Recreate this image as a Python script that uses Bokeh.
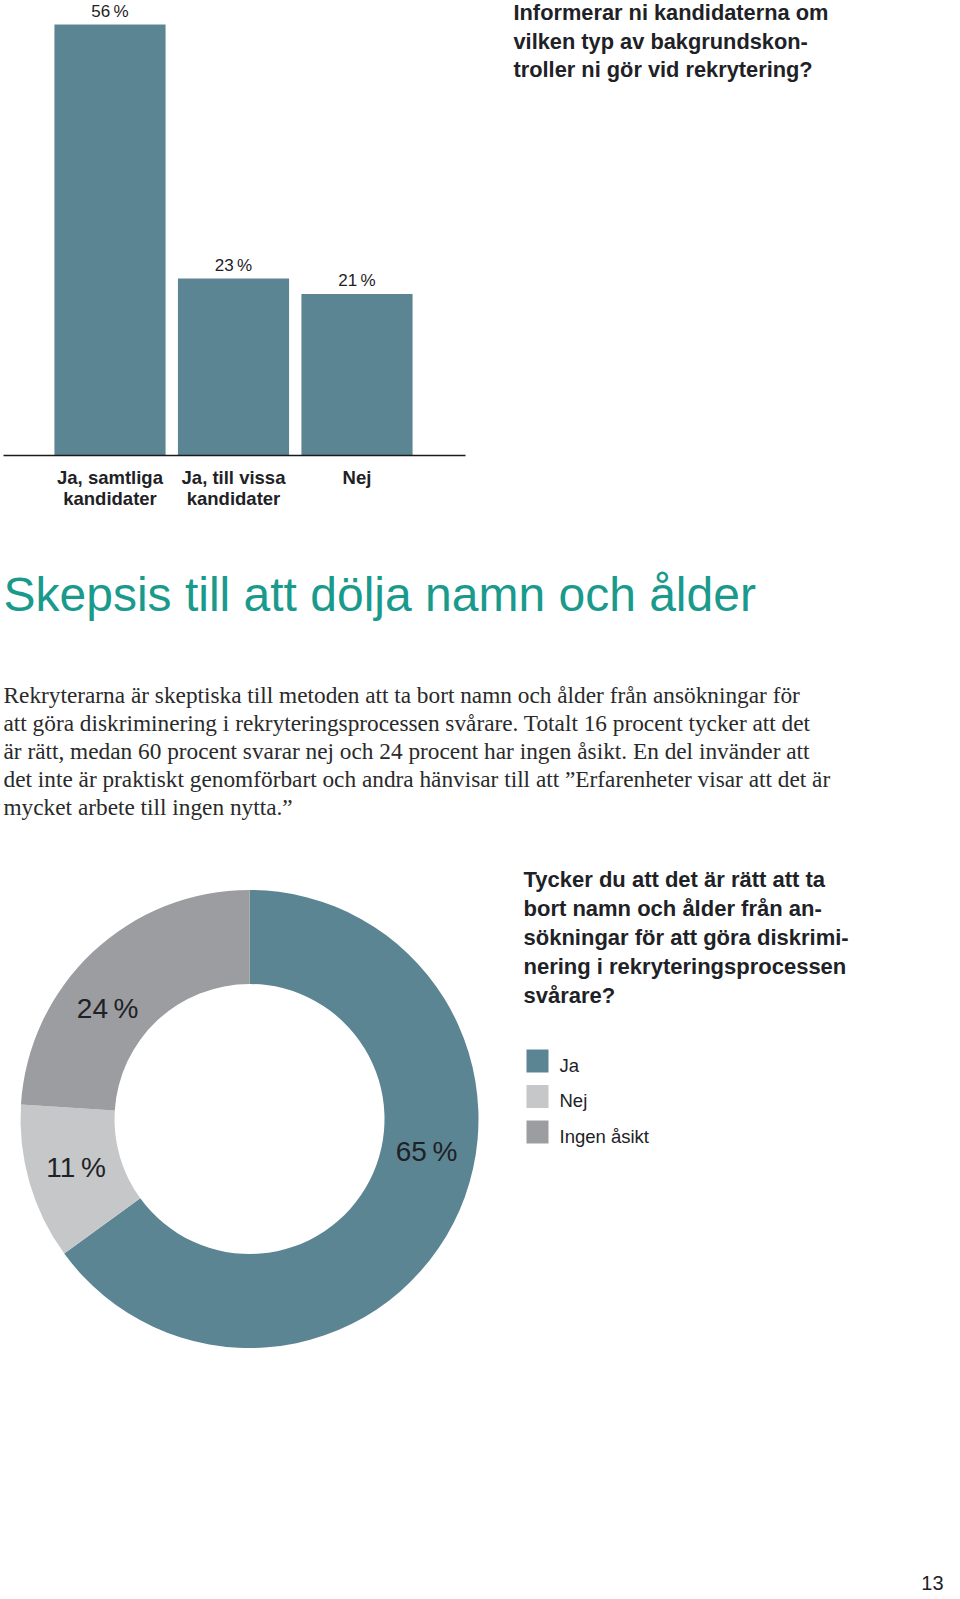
import math
from bokeh.plotting import figure
from bokeh.models import Range1d
from bokeh.layouts import column
from bokeh.core.properties import value
from bokeh.embed import file_html
from bokeh.resources import INLINE

# ---------------- data ----------------
bar_categories = ["Ja, samtliga\nkandidater", "Ja, till vissa\nkandidater", "Nej"]
bar_values = [56, 23, 21]
bar_question = ["Informerar ni kandidaterna om",
                "vilken typ av bakgrundskon-",
                "troller ni gör vid rekrytering?"]

heading = "Skepsis till att dölja namn och ålder"
paragraph = [
    "Rekryterarna är skeptiska till metoden att ta bort namn och ålder från ansökningar för",
    "att göra diskriminering i rekryteringsprocessen svårare. Totalt 16 procent tycker att det",
    "är rätt, medan 60 procent svarar nej och 24 procent har ingen åsikt. En del invänder att",
    "det inte är praktiskt genomförbart och andra hänvisar till att \u201dErfarenheter visar att det är",
    "mycket arbete till ingen nytta.\u201d",
]

donut_categories = ["Ja", "Nej", "Ingen åsikt"]
donut_values = [65, 11, 24]
donut_question = ["Tycker du att det är rätt att ta",
                  "bort namn och ålder från an-",
                  "sökningar för att göra diskrimi-",
                  "nering i rekryteringsprocessen",
                  "svårare?"]
page_number = "13"

# ---------------- style ----------------
BAR_COLOR = "#5c8594"
DONUT_COLORS = ["#5c8594", "#c6c7c9", "#9c9da1"]
TEAL = "#1a9a8c"
INK = "#1e2226"
SANS = value("Liberation Sans")
SERIF = value("Liberation Serif")

W = 944
H_TOP = 828
H_BOT = 769

# ---------------- top figure: bar chart + texts ----------------
STEP_PX = 123.5
FIRST_CENTER_PX = 109.5
BASE_PX = 455
PX_PER_PCT = 431.0 / 56

top = figure(width=W, height=H_TOP, output_backend="svg", toolbar_location=None,
             x_axis_type=None, y_axis_type=None, min_border=0,
             x_range=Range1d(-FIRST_CENTER_PX / STEP_PX, (W - FIRST_CENTER_PX) / STEP_PX),
             y_range=Range1d(-(H_TOP - BASE_PX) / PX_PER_PCT, BASE_PX / PX_PER_PCT))
top.extra_x_ranges = {"px": Range1d(0, W)}
top.extra_y_ranges = {"px": Range1d(H_TOP, 0)}
top.outline_line_color = None
top.grid.visible = False
top.background_fill_color = "white"
top.border_fill_color = "white"

idx = list(range(len(bar_values)))
top.vbar(x=idx, top=bar_values, bottom=0, width=0.9,
         fill_color=BAR_COLOR, line_color=None)
top.text(x=idx, y=bar_values, text=[f"{v}\u2009%" for v in bar_values],
         y_offset=-13, text_align="center", text_baseline="alphabetic",
         text_font=SANS, text_font_size="17px", text_color=INK)
# baseline rule
top.line(x=[3, 465], y=[0, 0], x_range_name="px",
         line_color="#1a1a1a", line_width=1.6)
# category labels
line1 = [c.split("\n")[0] for c in bar_categories]
line2 = [c.split("\n")[1] if "\n" in c else "" for c in bar_categories]
top.text(x=idx, y=[477] * 3, y_range_name="px", text=line1,
         text_align="center", text_baseline="alphabetic",
         text_font=SANS, text_font_style="bold", text_font_size="18.5px", text_color=INK)
top.text(x=idx, y=[498] * 3, y_range_name="px", text=line2,
         text_align="center", text_baseline="alphabetic",
         text_font=SANS, text_font_style="bold", text_font_size="18.5px", text_color=INK)
# question
top.text(x=[513] * 3, y=[12, 41, 69], x_range_name="px", y_range_name="px",
         text=bar_question, text_align="left", text_baseline="alphabetic",
         text_font=SANS, text_font_style="bold", text_font_size="21.8px", text_color=INK)
# heading
top.text(x=[3], y=[594], x_range_name="px", y_range_name="px", text=[heading],
         text_align="left", text_baseline="alphabetic",
         text_font=SANS, text_font_size="48px", text_color=TEAL)
# paragraph
top.text(x=[3] * len(paragraph), y=[694 + 28.0 * i for i in range(len(paragraph))],
         x_range_name="px", y_range_name="px", text=paragraph,
         text_align="left", text_baseline="alphabetic",
         text_font=SERIF, text_font_size="23.3px", text_color="#2a2a2a")

# ---------------- bottom figure: donut + legend ----------------
bot = figure(width=W, height=H_BOT, output_backend="svg", toolbar_location=None,
             x_axis_type=None, y_axis_type=None, min_border=0,
             x_range=Range1d(0, W), y_range=Range1d(0, H_BOT))
bot.extra_y_ranges = {"px": Range1d(H_BOT, 0)}
bot.outline_line_color = None
bot.grid.visible = False
bot.background_fill_color = "white"
bot.border_fill_color = "white"

CX, CY = 249, H_BOT - 290.5
R_IN, R_OUT = 135, 229
total = float(sum(donut_values))
starts, ends = [], []
acc = 0.0
for v in donut_values:
    starts.append(math.pi / 2 - 2 * math.pi * acc / total)
    acc += v
    ends.append(math.pi / 2 - 2 * math.pi * acc / total)
bot.annular_wedge(x=[CX] * 3, y=[CY] * 3, inner_radius=R_IN, outer_radius=R_OUT,
                  start_angle=starts, end_angle=ends, direction="clock",
                  fill_color=DONUT_COLORS, line_color=None)

LABEL_ANGLES_DEG = [-10.5, 195.6, 142]
LABEL_R = 180
lx = [CX + LABEL_R * math.cos(math.radians(a)) for a in LABEL_ANGLES_DEG]
ly = [CY + LABEL_R * math.sin(math.radians(a)) for a in LABEL_ANGLES_DEG]
bot.text(x=lx, y=ly, text=[f"{v}\u2009%" for v in donut_values],
         text_align="center", text_baseline="middle",
         text_font=SANS, text_font_size="28px", text_color=INK)

# question
bot.text(x=[523] * len(donut_question), y=[51 + 29.0 * i for i in range(len(donut_question))],
         y_range_name="px", text=donut_question, text_align="left", text_baseline="alphabetic",
         text_font=SANS, text_font_style="bold", text_font_size="22px", text_color=INK)
# legend
leg_y = [232.5 + 35.5 * i for i in range(len(donut_categories))]
bot.rect(x=[537] * 3, y=leg_y, width=22, height=23, y_range_name="px",
         fill_color=DONUT_COLORS, line_color=None)
bot.text(x=[559] * 3, y=[y + 4 for y in leg_y], y_range_name="px",
         text=donut_categories, text_align="left", text_baseline="alphabetic",
         text_font=SANS, text_font_size="18.5px", text_color=INK)
# page number
bot.text(x=[943], y=[754], y_range_name="px", text=[page_number],
         text_align="right", text_baseline="alphabetic",
         text_font=SANS, text_font_size="20px", text_color=INK)

layout = column(top, bot, spacing=0)
open("out.html", "w").write(file_html(layout, INLINE))
